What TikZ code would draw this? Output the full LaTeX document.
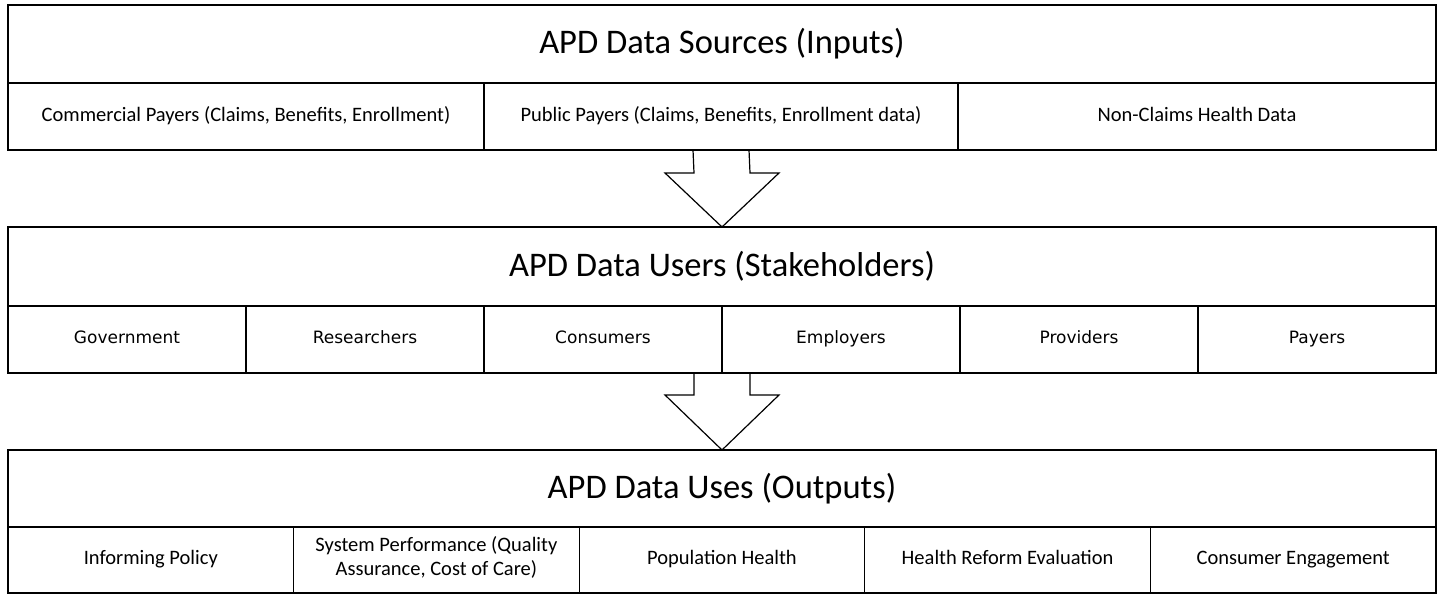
\documentclass[tikz,border=0pt]{standalone}
\usepackage{fontspec}
\setmainfont{Carlito}
\newfontfamily\dejavu{DejaVu Sans}
\usetikzlibrary{positioning}

\begin{document}
\begin{tikzpicture}[
    x=1pt, y=-1pt,
    titlebox/.style={draw, line width=1.4pt, anchor=north west, inner sep=0pt, outer sep=0pt,
        minimum width=1428pt, minimum height=78pt, font=\fontsize{34.5}{40}\selectfont},
    cellbox/.style={draw, line width=1.2pt, inner sep=0pt, outer sep=0pt, align=center,
        minimum height=67pt, font=\fontsize{20.5}{24}\selectfont,
        execute at begin node=\strut, execute at end node=\strut},
    userbox/.style={cellbox, minimum width=238pt, minimum height=67pt, font=\dejavu\fontsize{17}{22}\selectfont},
    usebox/.style={cellbox, minimum width=285.6pt, minimum height=66pt},
    downarrow/.style={draw, line width=1.2pt, line join=miter}
]
\useasboundingbox (0,0) rectangle (1443,596);

% ===== Inputs =====
\node[titlebox] (srcTitle) at (8,5) {APD Data Sources (Inputs)};
\node[cellbox, minimum width=476pt, anchor=north west] (srcA) at (srcTitle.south west) {Commercial Payers (Claims, Benefits, Enrollment)};
\node[cellbox, minimum width=474pt, right=0pt of srcA] (srcB) {Public Payers (Claims, Benefits, Enrollment data)};
\node[cellbox, minimum width=478pt, right=0pt of srcB] (srcC) {Non-Claims Health Data};

% ===== Stakeholders =====
\node[titlebox, minimum height=79pt] (usrTitle) at (8,227) {APD Data Users (Stakeholders)};
\node[userbox, anchor=north west] (usrA) at (usrTitle.south west) {Government};
\node[userbox, right=0pt of usrA] (usrB) {Researchers};
\node[userbox, right=0pt of usrB] (usrC) {Consumers};
\node[userbox, right=0pt of usrC] (usrD) {Employers};
\node[userbox, right=0pt of usrD] (usrE) {Providers};
\node[userbox, right=0pt of usrE] (usrF) {Payers};

% ===== Outputs =====
\node[titlebox, minimum height=77pt] (outTitle) at (8,450) {APD Data Uses (Outputs)};
\node[usebox, anchor=north west] (outA) at (outTitle.south west) {Informing Policy};
\node[usebox, right=0pt of outA] (outB) {System Performance (Quality\\Assurance, Cost of Care)};
\node[usebox, right=0pt of outB] (outC) {Population Health};
\node[usebox, right=0pt of outC] (outD) {Health Reform Evaluation};
\node[usebox, right=0pt of outD] (outE) {Consumer Engagement};

% block arrows between the rows
\draw[downarrow] ([xshift=-28pt]srcB.south) -- ([xshift=-28pt,yshift=54pt]usrTitle.north)
    -- ([xshift=-57pt,yshift=54pt]usrTitle.north) -- (usrTitle.north)
    -- ([xshift=57pt,yshift=54pt]usrTitle.north) -- ([xshift=28pt,yshift=54pt]usrTitle.north)
    -- ([xshift=28pt]srcB.south);
\draw[downarrow] ([xshift=-28pt]usrC.south east) -- ([xshift=-28pt,yshift=55pt]outTitle.north)
    -- ([xshift=-57pt,yshift=55pt]outTitle.north) -- (outTitle.north)
    -- ([xshift=57pt,yshift=55pt]outTitle.north) -- ([xshift=28pt,yshift=55pt]outTitle.north)
    -- ([xshift=28pt]usrC.south east);

\end{tikzpicture}
\end{document}
